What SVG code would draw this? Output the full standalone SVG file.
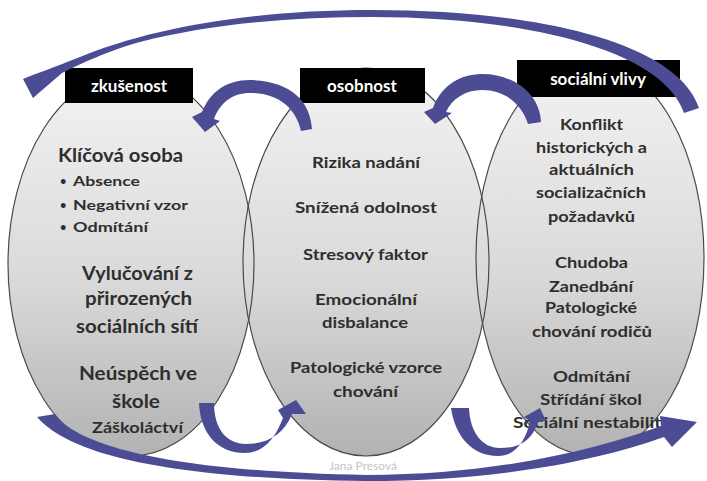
<svg xmlns="http://www.w3.org/2000/svg" width="707" height="481" viewBox="0 0 707 481">
<defs>
<linearGradient id="g" x1="0" y1="0" x2="0" y2="1">
<stop offset="0" stop-color="#f3f3f3"/>
<stop offset="0.55" stop-color="#d9d9d9"/>
<stop offset="1" stop-color="#b2b2b2"/>
</linearGradient>
<style>
.ell{fill:url(#g);stroke:none}
.eo{fill:none;stroke:#4a4a4a;stroke-width:1.2}
.box{fill:#000}
.bl{font-family:Lato,"Liberation Sans",sans-serif;font-weight:bold;font-size:17px;fill:#fff;text-anchor:middle}
.t{font-family:Lato,"Liberation Sans",sans-serif;font-weight:bold;fill:#2e2e2e;text-anchor:middle}
.st{text-anchor:start}
.s18{font-size:18px}
.s16{font-size:16px}
.s15{font-size:15px}
.s14{font-size:14px}
.bu{font-size:11px}
.arr{fill:#4b4c94}
.cr{font-family:Lato,"Liberation Sans",sans-serif;font-size:12px;fill:#c4c4c4;text-anchor:middle}
</style>
</defs>
<rect width="707" height="481" fill="#fff"/>
<g id="ellipses-fill">
<ellipse class="ell" cx="131" cy="264" rx="123" ry="192"/>
<ellipse class="ell" cx="366" cy="262" rx="123" ry="194"/>
<ellipse class="ell" cx="590" cy="258" rx="114" ry="197"/>
</g>
<g id="node-zkusenost">
<ellipse class="eo" cx="131" cy="264" rx="123" ry="192"/>
<rect class="box" x="65" y="68" width="128" height="35"/>
<text class="bl" x="129" y="92">zkušenost</text>
<text class="t s18 st" x="58" y="162" textLength="125" lengthAdjust="spacingAndGlyphs">Klíčová osoba</text>
<text class="t bu st" x="60" y="185">•</text>
<text class="t s14 st" x="73" y="186" textLength="67" lengthAdjust="spacingAndGlyphs">Absence</text>
<text class="t bu st" x="60" y="209">•</text>
<text class="t s14 st" x="73" y="210" textLength="115" lengthAdjust="spacingAndGlyphs">Negativní vzor</text>
<text class="t bu st" x="60" y="231">•</text>
<text class="t s14 st" x="73" y="232" textLength="75" lengthAdjust="spacingAndGlyphs">Odmítání</text>
<text class="t s18" x="137.5" y="280" textLength="111" lengthAdjust="spacingAndGlyphs">Vylučování z</text>
<text class="t s18" x="138.5" y="305" textLength="107" lengthAdjust="spacingAndGlyphs">přirozených</text>
<text class="t s18" x="137" y="333" textLength="122" lengthAdjust="spacingAndGlyphs">sociálních sítí</text>
<text class="t s18" x="138" y="380" textLength="118" lengthAdjust="spacingAndGlyphs">Neúspěch ve</text>
<text class="t s18" x="136" y="408" textLength="48" lengthAdjust="spacingAndGlyphs">škole</text>
<text class="t s15" x="137.5" y="433" textLength="91" lengthAdjust="spacingAndGlyphs">Záškoláctví</text>
</g>
<g id="node-osobnost">
<ellipse class="eo" cx="366" cy="262" rx="123" ry="194"/>
<rect class="box" x="300" y="68" width="125" height="35"/>
<text class="bl" x="362" y="92">osobnost</text>
<text class="t s16" x="366" y="168" textLength="108" lengthAdjust="spacingAndGlyphs">Rizika nadání</text>
<text class="t s16" x="366" y="213" textLength="142" lengthAdjust="spacingAndGlyphs">Snížená odolnost</text>
<text class="t s16" x="365.5" y="260" textLength="125" lengthAdjust="spacingAndGlyphs">Stresový faktor</text>
<text class="t s16" x="366" y="305" textLength="102" lengthAdjust="spacingAndGlyphs">Emocionální</text>
<text class="t s16" x="365" y="328" textLength="86" lengthAdjust="spacingAndGlyphs">disbalance</text>
<text class="t s16" x="366" y="373" textLength="152" lengthAdjust="spacingAndGlyphs">Patologické vzorce</text>
<text class="t s16" x="365.5" y="397" textLength="65" lengthAdjust="spacingAndGlyphs">chování</text>
</g>
<g id="node-socialni-vlivy">
<ellipse class="eo" cx="590" cy="258" rx="114" ry="197"/>
<rect class="box" x="517" y="60" width="163" height="37"/>
<text class="bl" x="598" y="85">sociální vlivy</text>
<text class="t s16" x="591.5" y="130" textLength="63" lengthAdjust="spacingAndGlyphs">Konflikt</text>
<text class="t s16" x="591.5" y="153" textLength="111" lengthAdjust="spacingAndGlyphs">historických a</text>
<text class="t s16" x="591.5" y="175" textLength="85" lengthAdjust="spacingAndGlyphs">aktuálních</text>
<text class="t s16" x="591" y="198" textLength="110" lengthAdjust="spacingAndGlyphs">socializačních</text>
<text class="t s16" x="591.5" y="222" textLength="87" lengthAdjust="spacingAndGlyphs">požadavků</text>
<text class="t s16" x="591.5" y="268" textLength="73" lengthAdjust="spacingAndGlyphs">Chudoba</text>
<text class="t s16" x="591" y="292" textLength="84" lengthAdjust="spacingAndGlyphs">Zanedbání</text>
<text class="t s16" x="591" y="313" textLength="92" lengthAdjust="spacingAndGlyphs">Patologické</text>
<text class="t s16" x="592" y="337" textLength="120" lengthAdjust="spacingAndGlyphs">chování rodičů</text>
<text class="t s16" x="591.5" y="382" textLength="77" lengthAdjust="spacingAndGlyphs">Odmítání</text>
<text class="t s16" x="591" y="405" textLength="102" lengthAdjust="spacingAndGlyphs">Střídání škol</text>
<text class="t s16" x="592" y="428" textLength="158" lengthAdjust="spacingAndGlyphs">Sociální nestabilita</text>
</g>
<text class="cr" x="363" y="470">Jana Presová</text>
<g id="connectors">
<path class="arr" d="M699,108 C676,40 530,10 372,10 C250,10 150,28 80,57 C55,67 35,74 23,79 L33,98 L62,73 C80,64 110,50 140,42 C210,24 290,17 372,17 C520,17 662,48 684,113 Z"/>
<path class="arr" d="M312,129 C310,100 290,81 250,80 C226,80 210,92 202,112 L192,117 L205,132 L220,121 L214,119 C220,103 232,93 250,93 C278,93 296,108 301,131 Z"/>
<path class="arr" d="M541,122 C540,95 515,74 482,74 C458,74 440,88 433,108 L424,112 L435,124 L452,113 L446,112 C452,99 465,90 482,90 C505,90 522,104 528,124 Z"/>
<path class="arr" d="M199,403 C200,430 215,453 245,453 C265,453 276,436 283,418 L278,410 L296,400 L306,414 L292,414 C284,434 268,444 246,444 C226,444 214,428 214,403 Z"/>
<path class="arr" d="M451,408 C455,436 472,456 498,456 C516,456 526,440 530,421 L524,417 L540,408 L546,421 L538,421 C532,442 518,448 500,448 C482,448 470,432 469,408 Z"/>
<path class="arr" d="M37,417 C70,455 170,479 366,481 C500,481 600,460 664,437 L672,447 L697,422 L660,416 L661,426 C600,448 500,475 366,475 C190,472 80,450 55,414 Z"/>
</g>
</svg>
